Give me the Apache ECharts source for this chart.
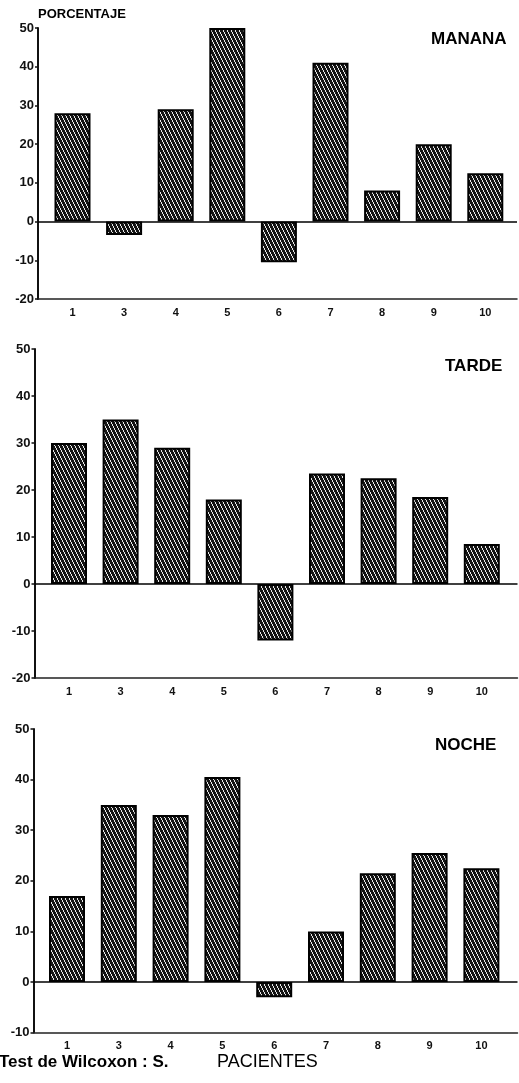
<!DOCTYPE html>
<html><head><meta charset="utf-8">
<script src="https://cdn.jsdelivr.net/npm/echarts@6/dist/echarts.min.js"></script>
<style>html,body{margin:0;padding:0;background:#fff}#c{width:519px;height:1083px}</style>
</head><body><div id="c"></div>
<script>
const patients = ['1', '3', '4', '5', '6', '7', '8', '9', '10'];
const manana = [28, -3.5, 29, 50, -10.5, 41, 8, 20, 12.5];
const tarde  = [30, 35, 29, 18, -12, 23.5, 22.5, 18.5, 8.5];
const noche  = [17, 35, 33, 40.5, -3, 10, 21.5, 25.5, 22.5];
const panelNames = ['MANANA', 'TARDE', 'NOCHE'];
const yMins = [-20, -20, -10];
const yMax = 50;

const FONT = "'Liberation Sans', Arial, sans-serif";

function hatch() {
  const c = document.createElement('canvas');
  c.width = 4; c.height = 8;
  const g = c.getContext('2d');
  g.fillStyle = '#141414'; g.fillRect(0, 0, 4, 8);
  g.fillStyle = '#e8e8e8';
  for (let y = 0; y < 8; y++) { g.fillRect(Math.floor(y / 2) % 4, y, 1, 1); }
  return c;
}
const pattern = { image: hatch(), repeat: 'repeat' };

// layout of each panel (pixels)
const layout = [
  { left: 38,   top: 28,  width: 479, height: 271,   c0: 72.5, step: 51.6 },
  { left: 34.5, top: 349, width: 483, height: 329,   c0: 69,   step: 51.6 },
  { left: 33.5, top: 729, width: 484, height: 303.6, c0: 67,   step: 51.8 }
];
const seriesData = [manana, tarde, noche];
const idx = patients.map((p, i) => i);

const grids = [], xAxes = [], yAxes = [], series = [];
layout.forEach((L, k) => {
  grids.push({ left: L.left, top: L.top, width: L.width, height: L.height });
  const xmin = -(L.c0 - L.left) / L.step;
  const xmax = xmin + L.width / L.step;
  xAxes.push({
    type: 'value', gridIndex: k, min: xmin, max: xmax,
    splitLine: { show: false },
    axisLine: { show: true, onZero: false, lineStyle: { color: '#222', width: 1.5 } },
    axisTick: { show: false },
    axisLabel: {
      customValues: idx, formatter: v => patients[Math.round(v)],
      color: '#111', fontFamily: FONT, fontWeight: 'bold', fontSize: 11, margin: 8
    }
  });
  yAxes.push({
    type: 'value', gridIndex: k, min: yMins[k], max: yMax, interval: 10,
    splitLine: { show: false },
    axisLine: { show: true, onZero: false, lineStyle: { color: '#111', width: 2 } },
    axisTick: { show: true, length: 3, lineStyle: { color: '#111', width: 1.5 } },
    axisLabel: { color: '#111', fontFamily: FONT, fontWeight: 'bold', fontSize: 13, margin: 4 }
  });
  series.push({
    type: 'bar', xAxisIndex: k, yAxisIndex: k, barWidth: 36,
    data: seriesData[k].map((v, i) => [i, v]),
    itemStyle: { color: pattern, borderColor: '#000', borderWidth: 2 },
    silent: true, animation: false,
    markLine: {
      silent: true, symbol: 'none', label: { show: false },
      lineStyle: { color: '#000', width: 1.5, type: 'solid' },
      data: [{ yAxis: 0 }]
    }
  });
});

const titlePos = [[431, 31], [445, 358], [435, 737]];
const graphic = panelNames.map((t, k) => ({
  type: 'text', left: titlePos[k][0], top: titlePos[k][1],
  style: { text: t, font: 'bold 17px ' + FONT, fill: '#000' }
}));
graphic.push({ type: 'text', left: 38, top: 8, style: { text: 'PORCENTAJE', font: 'bold 13px ' + FONT, fill: '#000' } });
graphic.push({ type: 'text', left: -1, top: 1054, style: { text: 'Test de Wilcoxon : S.', font: 'bold 17px ' + FONT, fill: '#000' } });
graphic.push({ type: 'text', left: 217, top: 1053, style: { text: 'PACIENTES', font: '18px ' + FONT, fill: '#000' } });

const chart = echarts.init(document.getElementById('c'), null, { renderer: 'canvas' });
chart.setOption({
  backgroundColor: '#fff', animation: false,
  grid: grids, xAxis: xAxes, yAxis: yAxes, series: series, graphic: graphic
});
</script></body></html>
